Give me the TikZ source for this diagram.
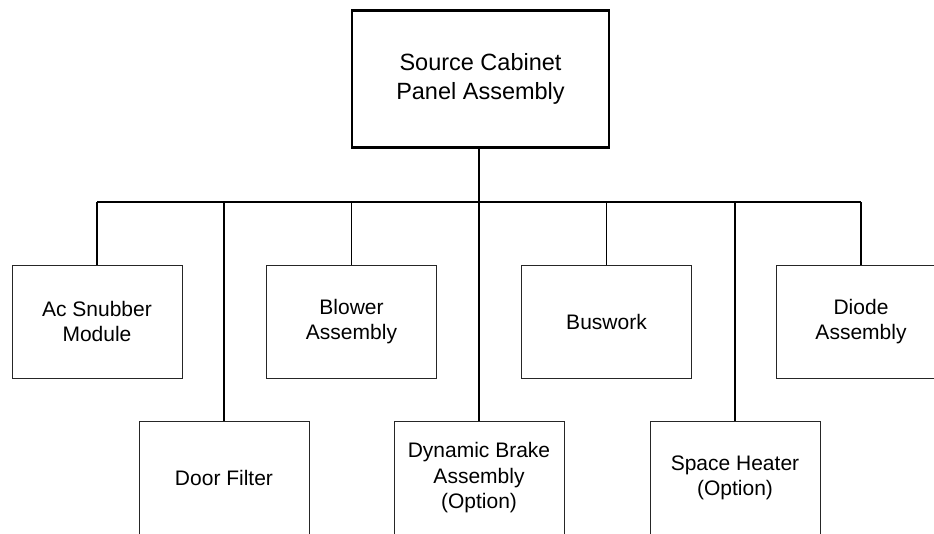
\documentclass[tikz,border=0pt]{standalone}
\usepackage{fontspec}
\setmainfont{Liberation Sans}
\begin{document}
\begin{tikzpicture}[x=1pt,y=-1pt,
  box/.style={draw=black!85,line width=0.9pt,rectangle,minimum width=170pt,minimum height=112.5pt,
    inner sep=0pt,align=center,font=\fontsize{21}{25.5}\selectfont},
  topbox/.style={draw=black,line width=2.7pt,rectangle,minimum width=257pt,minimum height=137pt,
    inner sep=0pt,align=center,font=\fontsize{23.5}{28.3}\selectfont},
  conn/.style={draw=black,line width=1.4pt}]
\useasboundingbox (0,0) rectangle (934,533);
\node[topbox] (top) at (480.5,79) {Source Cabinet\\Panel Assembly};
\node[box] (ac) at (97,321.7) {Ac Snubber\\Module};
\node[box] (blow) at (351.5,321.7) {Blower\\Assembly};
\node[box] (bus) at (606.5,321.7) {Buswork};
\node[box] (diode) at (861,321.7) {Diode\\Assembly};
\node[box] (door) at (224,477.7) {Door Filter};
\node[box] (dyn) at (479,477.7) {Dynamic Brake\\Assembly\\(Option)};
\node[box] (space) at (735,477.7) {Space Heater\\(Option)};
\coordinate (hl) at (97,202);
\coordinate (hr) at (861,202);
\coordinate (hm) at (479,202);
\draw[conn] (hl) -- (hr);
\draw[conn] (top.south -| hm) -- (hm);
\draw[conn] (ac.north) -- (ac.north |- hl);
\draw[conn] (blow.north) -- (blow.north |- hl);
\draw[conn] (bus.north) -- (bus.north |- hl);
\draw[conn] (diode.north) -- (diode.north |- hl);
\draw[conn] (door.north) -- (door.north |- hl);
\draw[conn] (dyn.north) -- (dyn.north |- hl);
\draw[conn] (space.north) -- (space.north |- hl);
\end{tikzpicture}
\end{document}
